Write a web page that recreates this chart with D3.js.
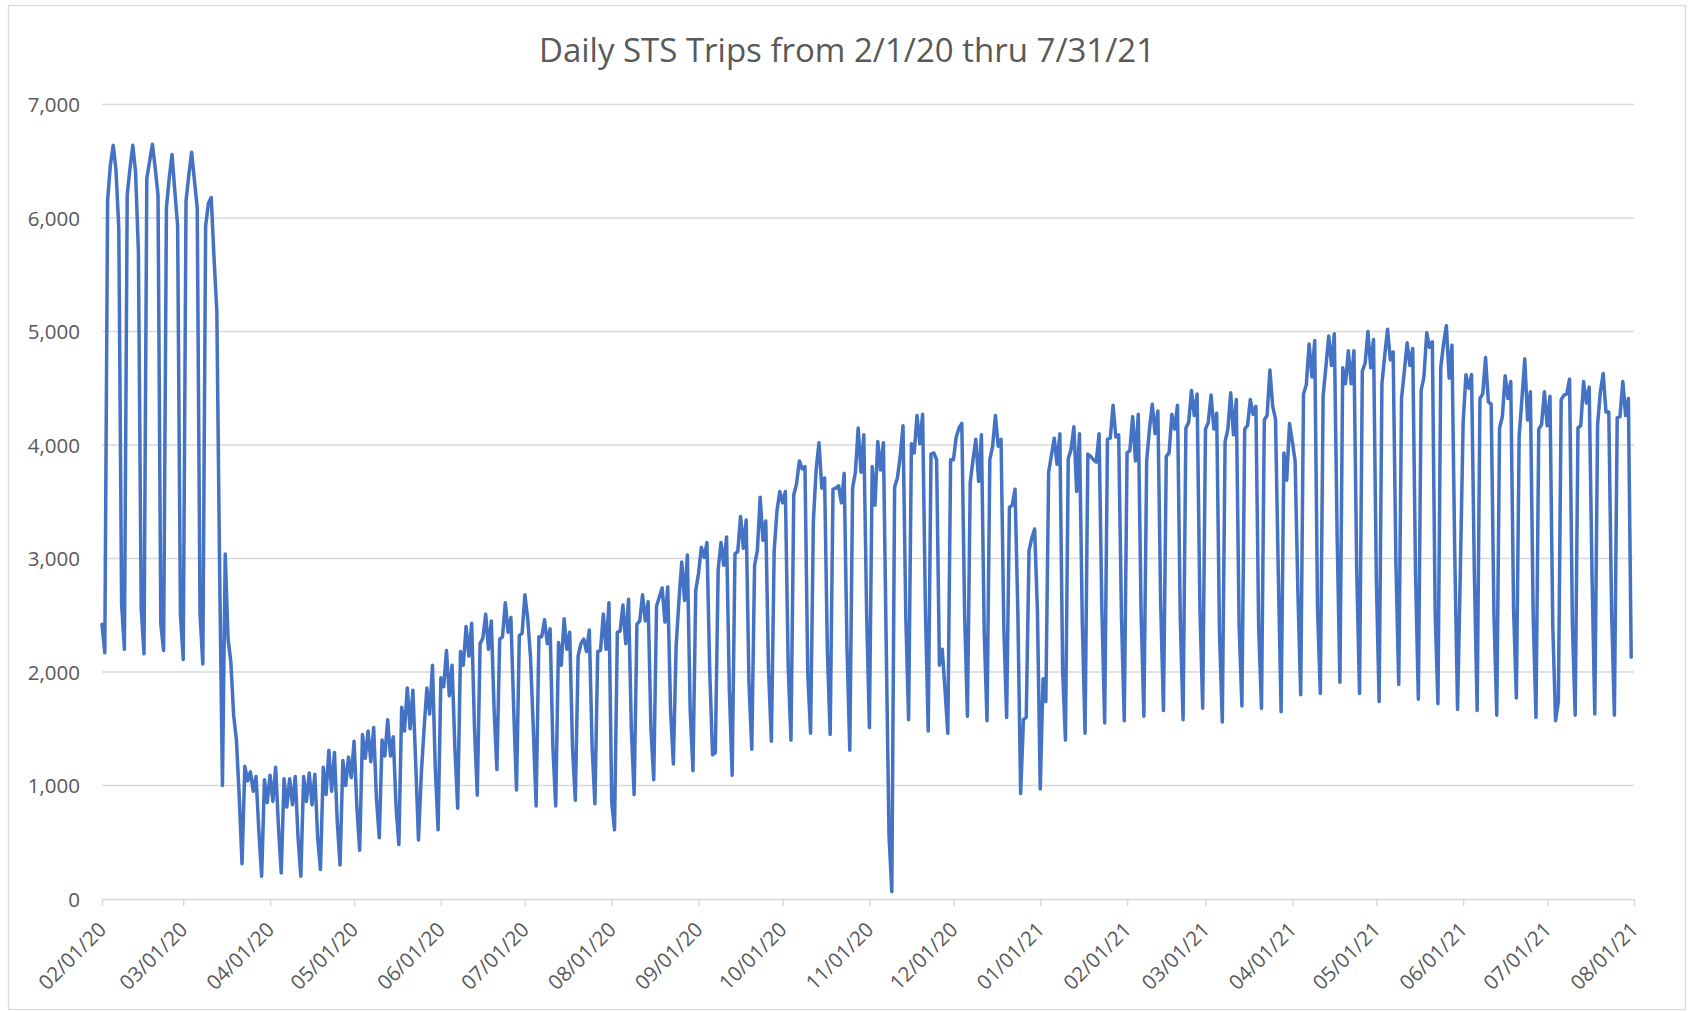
<!DOCTYPE html>
<html><head><meta charset="utf-8">
<script src="https://cdn.jsdelivr.net/npm/d3@7"></script>
<style>
html,body{margin:0;padding:0;background:#fff;}
svg{display:block;}
text{font-family:"Open Sans",Lato,sans-serif;fill:#595959;}
</style></head><body>
<svg id="chart" width="1689" height="1012"></svg>
<script>
const chartTitle = "Daily STS Trips from 2/1/20 thru 7/31/21";
const startDate = "2020-02-01";
const axisEndDate = "2021-08-01";
const yTickValues = [0,1000,2000,3000,4000,5000,6000,7000];

// Daily trips, 2/1/2020 .. 12/31/2020 (rows are Sat..Fri weeks)
const trips2020 = [
2420,2170,6150,6470,6640,6420,5910,
2600,2200,6200,6440,6640,6400,5700,
2560,2160,6350,6500,6650,6440,6200,
2420,2190,6090,6350,6560,6240,5930,
2510,2110,6150,6380,6580,6330,6090,
2510,2070,5930,6130,6180,5650,5180,
2900,1000,3040,2290,2090,1620,1400,
900,310,1170,1040,1120,950,1080,
600,200,1050,850,1090,860,1160,
640,230,1060,810,1060,830,1080,
540,200,1080,860,1110,830,1100,
540,260,1160,920,1310,950,1290,
680,300,1220,1000,1250,1070,1390,
810,430,1450,1240,1480,1210,1510,
880,540,1400,1260,1580,1260,1430,
810,480,1690,1480,1860,1500,1840,
1200,520,1100,1500,1860,1630,2060,
1150,610,1950,1870,2190,1790,2060,
1330,800,2180,2060,2400,2140,2430,
1500,915,2250,2300,2510,2200,2450,
1670,1140,2290,2310,2610,2350,2480,
1670,960,2320,2340,2680,2470,2130,
1500,820,2310,2310,2460,2250,2380,
1330,820,2260,2060,2470,2200,2350,
1330,870,2140,2250,2290,2180,2370,
1330,840,2180,2190,2510,2200,2610,
850,610,2350,2360,2590,2250,2640,
1500,920,2420,2450,2680,2450,2620,
1500,1050,2580,2660,2740,2440,2750,
1670,1190,2230,2630,2970,2630,3030,
1670,1130,2720,2870,3100,3010,3140,
2000,1270,1290,2900,3140,2940,3190,
1840,1090,3040,3060,3370,3090,3340,
1910,1320,2940,3070,3540,3160,3330,
2010,1390,3070,3420,3590,3490,3590,
2050,1400,3560,3660,3860,3790,3810,
1980,1460,3330,3790,4020,3620,3710,
2180,1450,3610,3620,3640,3490,3750,
2220,1310,3620,3760,4150,3760,4090,
2530,1510,3810,3470,4030,3780,4020,
2250,560,65,3630,3710,3900,4170,
2480,1580,4010,3930,4260,4010,4270,
2560,1480,3920,3930,3870,2060,2200,
1840,1460,3870,3870,4070,4150,4190,
2510,1610,3670,3870,4050,3680,4090,
2350,1570,3870,3990,4260,3990,4050,
2390,1600,3450,3470,3610,2530,930,
1580,1600,3070,3180,3260,2530
];

// Daily trips, 1/1/2021 .. 7/31/2021
const trips2021 = [
970,
1940,1740,3760,3910,4060,3830,4100,
2010,1400,3880,3960,4160,3590,4100,
2450,1460,3920,3900,3870,3850,4100,
2560,1550,4050,4060,4350,4070,4090,
2490,1570,3930,3950,4250,3860,4270,
2540,1610,3860,4140,4360,4100,4300,
2600,1660,3900,3930,4270,4140,4350,
2470,1580,4150,4200,4480,4260,4450,
2580,1680,4140,4200,4440,4140,4280,
2350,1560,4030,4140,4460,4090,4400,
2420,1700,4140,4170,4400,4270,4340,
2380,1680,4220,4260,4660,4340,4230,
2870,1650,3930,3690,4190,4030,3860,
2700,1800,4450,4530,4890,4600,4920,
2560,1810,4430,4690,4960,4700,4980,
3210,1910,4680,4540,4830,4540,4830,
2900,1810,4650,4720,5000,4680,4930,
2820,1740,4540,4790,5020,4750,4820,
2950,1890,4410,4650,4900,4700,4850,
2860,1760,4480,4600,4990,4860,4910,
2530,1720,4680,4890,5050,4590,4880,
3040,1670,2900,4200,4620,4500,4620,
2870,1660,4410,4450,4770,4380,4360,
2510,1620,4150,4250,4610,4410,4560,
2560,1770,4080,4410,4760,4220,4470,
2500,1600,4140,4180,4470,4170,4430,
2400,1570,1740,4400,4440,4450,4580,
2420,1620,4150,4170,4560,4370,4510,
2870,1630,4180,4470,4630,4290,4290,
2530,1620,4240,4250,4560,4260,4410,
2130
];

const W = 1689, H = 1012;
const svg = d3.select("#chart");
const parse = d3.utcParse("%Y-%m-%d");
const t0 = parse(startDate), t1 = parse(axisEndDate);
const values = trips2020.concat(trips2021);
const data = values.map((v, i) => ({date: d3.utcDay.offset(t0, i), value: v}));

const x = d3.scaleUtc().domain([t0, t1]).range([102, 1634]);
const y = d3.scaleLinear().domain([0, 7000]).range([899, 104.5]);

// chart frame
svg.append("rect").attr("x", 8.5).attr("y", 5.5).attr("width", 1677).attr("height", 1004)
  .attr("fill", "#fff").attr("stroke", "#d9d9d9").attr("stroke-width", 1.3);

// title
svg.append("text").attr("x", 847).attr("y", 62).attr("text-anchor", "middle")
  .style("font-size", "33px").text(chartTitle);

// gridlines
svg.append("g").selectAll("line").data(yTickValues.filter(v => v > 0)).join("line")
  .attr("x1", 102).attr("x2", 1634).attr("y1", d => y(d)).attr("y2", d => y(d))
  .attr("stroke", "#d9d9d9").attr("stroke-width", 1.5);

// y axis labels
const yAxis = d3.axisLeft(y).tickValues(yTickValues).tickFormat(d3.format(",")).tickSize(0).tickPadding(0);
const gy = svg.append("g").attr("transform", "translate(80,0)").call(yAxis);
gy.select(".domain").remove();
gy.selectAll("text").style("font-size", "20.5px").style("font-family", "'Open Sans',sans-serif")
  .attr("fill", "#595959").attr("x", 0).attr("dy", "0.35em");

// x axis
const months = d3.utcMonth.range(t0, d3.utcDay.offset(t1, 1));
const xAxis = d3.axisBottom(x).tickValues(months).tickFormat(d3.utcFormat("%m/%d/%y")).tickSize(7).tickSizeOuter(0);
const gx = svg.append("g").attr("transform", "translate(0,899)").call(xAxis);
gx.select(".domain").attr("stroke", "#d9d9d9").attr("stroke-width", 1.5);
gx.selectAll(".tick line").attr("stroke", "#d9d9d9").attr("stroke-width", 1.5);
gx.selectAll("text")
  .style("font-size", "20.5px").style("font-family", "'Open Sans',sans-serif").attr("fill", "#595959")
  .attr("text-anchor", "end").attr("dy", 0).attr("y", 0)
  .attr("transform", "translate(5,32) rotate(-45)");

// line
const line = d3.line().x(d => x(d.date)).y(d => y(d.value));
svg.append("path").datum(data).attr("d", line)
  .attr("fill", "none").attr("stroke", "#4472C4").attr("stroke-width", 3.5)
  .attr("stroke-linejoin", "round").attr("stroke-linecap", "round");
</script>
</body></html>
